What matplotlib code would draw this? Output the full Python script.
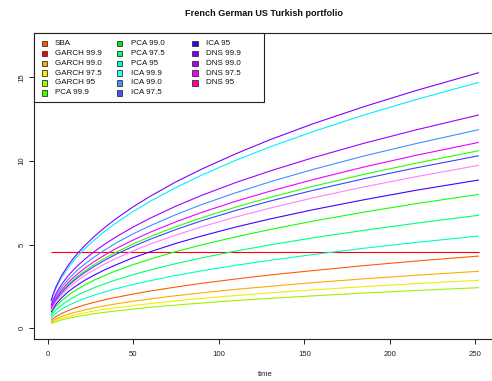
import matplotlib
matplotlib.use("Agg")
import matplotlib.pyplot as plt
from matplotlib.patches import Rectangle

plt.rcParams['font.family'] = ['Liberation Sans', 'DejaVu Sans']

# ---------------- data ----------------
title = "French German US Turkish portfolio"
xlabel = "time"
horizon = [2, 3, 5, 8, 12, 15, 18, 22, 27, 33, 40, 50, 60, 75, 90, 110, 130, 155, 185, 215, 252]

sba       = [4.56] * 21
garch_999 = [0.47, 0.56, 0.71, 0.88, 1.06, 1.18, 1.28, 1.41, 1.55, 1.70, 1.85, 2.05, 2.23, 2.47, 2.69, 2.95, 3.19, 3.45, 3.75, 4.02, 4.32]
garch_990 = [0.37, 0.44, 0.56, 0.70, 0.84, 0.93, 1.01, 1.11, 1.22, 1.34, 1.46, 1.62, 1.76, 1.95, 2.12, 2.33, 2.51, 2.73, 2.96, 3.17, 3.41]
garch_975 = [0.31, 0.37, 0.47, 0.59, 0.71, 0.78, 0.85, 0.93, 1.03, 1.13, 1.23, 1.36, 1.48, 1.64, 1.79, 1.96, 2.12, 2.30, 2.49, 2.67, 2.87]
garch_95  = [0.26, 0.32, 0.40, 0.50, 0.60, 0.66, 0.72, 0.79, 0.87, 0.95, 1.04, 1.15, 1.26, 1.39, 1.51, 1.66, 1.79, 1.94, 2.11, 2.26, 2.43]
pca_999   = [1.15, 1.38, 1.75, 2.17, 2.62, 2.90, 3.15, 3.46, 3.80, 4.17, 4.55, 5.05, 5.49, 6.08, 6.61, 7.25, 7.83, 8.49, 9.21, 9.87, 10.62]
pca_990   = [0.87, 1.04, 1.32, 1.64, 1.97, 2.19, 2.38, 2.61, 2.87, 3.14, 3.44, 3.81, 4.14, 4.59, 4.99, 5.47, 5.91, 6.41, 6.95, 7.45, 8.01]
pca_975   = [0.73, 0.88, 1.11, 1.38, 1.67, 1.85, 2.01, 2.20, 2.42, 2.65, 2.90, 3.21, 3.49, 3.87, 4.21, 4.62, 4.99, 5.41, 5.86, 6.28, 6.76]
pca_95    = [0.60, 0.72, 0.91, 1.13, 1.36, 1.51, 1.64, 1.80, 1.98, 2.17, 2.37, 2.62, 2.85, 3.16, 3.44, 3.77, 4.07, 4.41, 4.79, 5.13, 5.52]
ica_999   = [1.59, 1.92, 2.42, 3.01, 3.63, 4.02, 4.37, 4.79, 5.26, 5.77, 6.31, 6.99, 7.60, 8.42, 9.16, 10.05, 10.85, 11.76, 12.76, 13.67, 14.71]
ica_990   = [1.28, 1.55, 1.96, 2.43, 2.93, 3.24, 3.53, 3.87, 4.25, 4.66, 5.10, 5.65, 6.14, 6.80, 7.40, 8.11, 8.76, 9.50, 10.31, 11.04, 11.88]
ica_975   = [1.12, 1.34, 1.70, 2.11, 2.54, 2.82, 3.07, 3.36, 3.69, 4.05, 4.43, 4.90, 5.33, 5.91, 6.43, 7.05, 7.61, 8.25, 8.95, 9.59, 10.32]
ica_95    = [0.96, 1.15, 1.46, 1.81, 2.19, 2.42, 2.63, 2.89, 3.17, 3.48, 3.80, 4.22, 4.58, 5.08, 5.52, 6.06, 6.54, 7.09, 7.69, 8.25, 8.87]
dns_999   = [1.65, 1.99, 2.52, 3.13, 3.77, 4.18, 4.54, 4.98, 5.47, 6.00, 6.56, 7.27, 7.90, 8.76, 9.52, 10.44, 11.28, 12.23, 13.26, 14.21, 15.29]
dns_990   = [1.38, 1.66, 2.10, 2.61, 3.15, 3.48, 3.79, 4.16, 4.57, 5.01, 5.47, 6.06, 6.59, 7.31, 7.95, 8.72, 9.41, 10.20, 11.07, 11.86, 12.76]
dns_975   = [1.20, 1.45, 1.83, 2.27, 2.74, 3.04, 3.30, 3.62, 3.98, 4.36, 4.77, 5.28, 5.75, 6.37, 6.93, 7.60, 8.20, 8.89, 9.65, 10.34, 11.12]
dns_95    = [1.05, 1.27, 1.61, 1.99, 2.40, 2.66, 2.90, 3.18, 3.49, 3.83, 4.18, 4.63, 5.04, 5.58, 6.07, 6.66, 7.19, 7.80, 8.46, 9.06, 9.75]

labels = ["SBA", "GARCH 99.9", "GARCH 99.0", "GARCH 97.5", "GARCH 95",
          "PCA 99.9", "PCA 99.0", "PCA 97.5", "PCA 95",
          "ICA 99.9", "ICA 99.0", "ICA 97.5", "ICA 95",
          "DNS 99.9", "DNS 99.0", "DNS 97.5", "DNS 95"]
series = [sba, garch_999, garch_990, garch_975, garch_95,
          pca_999, pca_990, pca_975, pca_95,
          ica_999, ica_990, ica_975, ica_95,
          dns_999, dns_990, dns_975, dns_95]

xticks = [0, 50, 100, 150, 200, 250]
yticks = [0, 5, 10, 15]

# ---------------- style ----------------
line_colors = ["#FF0000", "#FF5A00", "#FFAA00", "#F0F000", "#A0F000",
               "#2AFF00", "#10FF10", "#00FF78", "#00FFC0",
               "#00F0FF", "#4090FF", "#4040FF", "#4400FF",
               "#8000FF", "#A000FF", "#F000FF", "#FF80FF"]
legend_colors = ["#FF5A00", "#FF0000", "#FFAA00", "#F0F000", "#96FF00",
                 "#3CFF00", "#00E61E", "#00FF78", "#00FFC8",
                 "#30FFFF", "#4090FF", "#5050FF", "#4000F0",
                 "#7800FF", "#AA00FF", "#F000FF", "#FF0099"]

W, H = 492, 381
fig = plt.figure(figsize=(W / 100, H / 100), dpi=100)

def fx(px):
    return px / W

def fy(py):
    return 1 - py / H

ax_l, ax_r, ax_t, ax_b = 34, 496, 33, 339
ax = fig.add_axes([fx(ax_l), fy(ax_b), fx(ax_r - ax_l), (ax_b - ax_t) / H])

for vals, col in zip(series, line_colors):
    ax.plot(horizon, vals, color=col, lw=0.8, solid_capstyle='butt',
            solid_joinstyle='round')

ax.set_xlim(-8, 262)
ax.set_ylim(-0.64, 17.66)
ax.set_xticks(xticks)
ax.set_yticks(yticks)
ax.set_xticklabels([str(v) for v in xticks])
ax.set_yticklabels([str(v) for v in yticks], rotation=90, va='center')
ax.tick_params(axis='both', direction='out', length=3.3, width=0.7,
               labelsize=5.6, color='#222222', labelcolor='#222222')
ax.tick_params(axis='x', pad=5.0)
ax.tick_params(axis='y', pad=3.0)
for s in ['left', 'bottom', 'top']:
    ax.spines[s].set_linewidth(0.8)
    ax.spines[s].set_color('#222222')
ax.spines['right'].set_visible(False)

fig.text(fx(265), fy(375), xlabel, ha='center', va='center', fontsize=5.6, color='#222222')
fig.text(fx(264), fy(13), title, ha='center', va='center', fontsize=6.6,
         fontweight='bold', color='#111111')

# ---------------- legend (R-style, equal column widths) ----------------
fig.add_artist(Rectangle((fx(34), fy(102)), fx(264 - 34), (102 - 33) / H,
                         transform=fig.transFigure, facecolor='white',
                         edgecolor='#222222', lw=0.8, zorder=5))
box_x = [44.2, 119.8, 195.0]
text_x = [55.0, 130.7, 206.0]
row_y0, row_dy = 43.4, 9.9
bs = 5.2
for i, (lab, col) in enumerate(zip(labels, legend_colors)):
    c, r = divmod(i, 6)
    cy = row_y0 + r * row_dy
    fig.add_artist(Rectangle((fx(box_x[c] - bs / 2), fy(cy + bs / 2)), bs / W, bs / H,
                             transform=fig.transFigure, facecolor=col,
                             edgecolor='#333333', lw=0.6, zorder=6))
    fig.text(fx(text_x[c]), fy(cy), lab, ha='left', va='center',
             fontsize=5.8, color='#111111', zorder=6)

fig.savefig("out.png", dpi=100)
